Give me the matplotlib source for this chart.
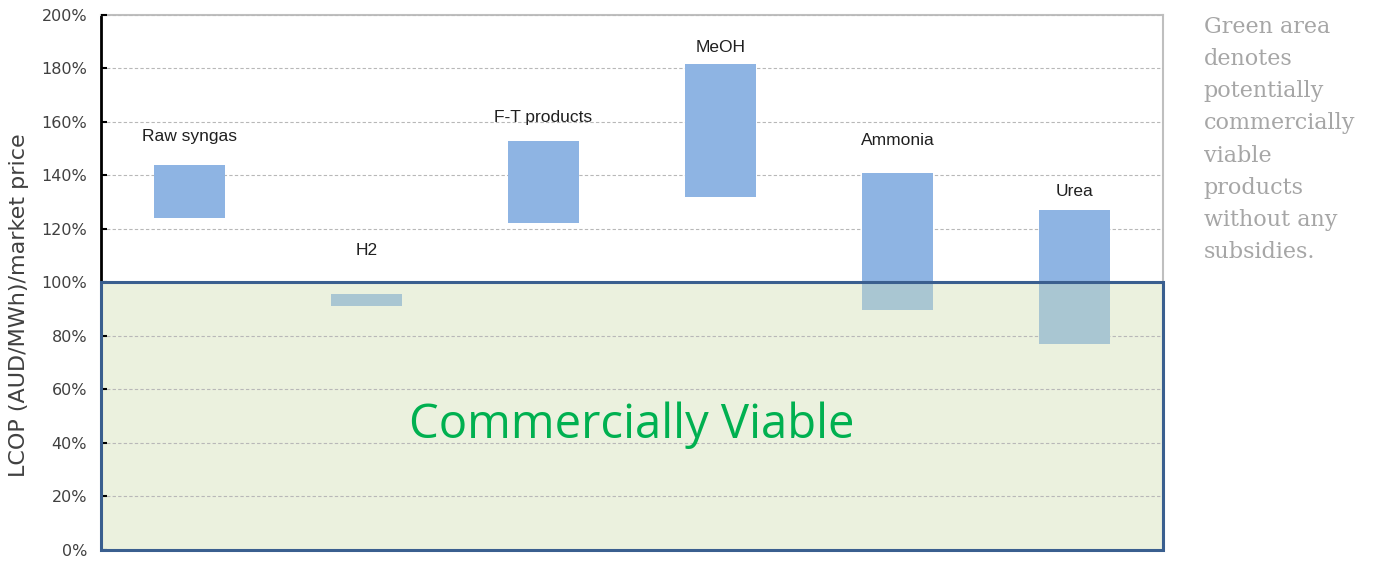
import matplotlib.pyplot as plt
import numpy as np
from matplotlib.patches import Rectangle

# LCOP range per product as % of market price
products = ["Raw syngas", "H2", "F-T products", "MeOH", "Ammonia", "Urea"]
low = [124, 91, 122, 132, 89.5, 77]
high = [144, 95.5, 153, 181.5, 141, 127]
label_y = [154.5, 112, 161.5, 188, 153, 134]

viable = 100  # market price parity
yticks = np.arange(0, 201, 20)

fig = plt.figure(figsize=(13.74, 5.62), dpi=100)
ax = fig.add_axes([0.0735, 0.0222, 0.7729, 0.9511])

x = np.arange(len(products))
ax.set_xlim(-0.5, len(products) - 0.5)
ax.set_ylim(0, 200)

# green "commercially viable" zone
ax.add_patch(Rectangle((-0.5, 0), len(products), viable, facecolor='#EBF1DE',
                       edgecolor='none', zorder=1))

ax.set_yticks(yticks)
ax.set_yticklabels(["{}%".format(v) for v in yticks], fontsize=11.5, color='#404040')
ax.set_xticks([])
ax.yaxis.grid(True, linestyle=(0, (3, 2)), color='#B8B8B8', linewidth=0.8, zorder=2)
ax.set_axisbelow(False)

# bars: part above parity in blue, part inside the green zone muted
for i in range(len(products)):
    top_part = max(low[i], viable)
    if high[i] > top_part:
        ax.bar(x[i], high[i] - top_part, bottom=top_part, width=0.4,
               color='#8EB4E3', zorder=3)
    if low[i] < viable:
        ax.bar(x[i], min(high[i], viable) - low[i], bottom=low[i], width=0.4,
               color='#A9C6D2', zorder=3)
    ax.text(x[i], label_y[i], products[i], ha='center', va='center',
            fontsize=12.5, family='Liberation Sans', color='#202020', zorder=4)

# zone outline on top of bars and spines
ax.add_patch(Rectangle((-0.5, 0), len(products), viable, facecolor='none',
                       edgecolor='#3A5F8F', linewidth=2.2, zorder=6, clip_on=False))

ax.text(2.5, 46.5, "Commercially Viable", ha='center', va='center',
        fontsize=34, family='Open Sans', color='#00B050', zorder=4)

ax.set_ylabel("LCOP (AUD/MWh)/market price", fontsize=16, color='#404040')
ax.yaxis.set_label_coords(-0.068, 0.457)

for s in ['top', 'right']:
    ax.spines[s].set_color('#BFBFBF')
    ax.spines[s].set_linewidth(1.5)
ax.spines['left'].set_linewidth(2)
ax.spines['bottom'].set_visible(False)
ax.tick_params(axis='y', direction='in', length=4, width=1.5, pad=10)

fig.text(0.876, 0.972, "Green area\ndenotes\npotentially\ncommercially\nviable\nproducts\nwithout any\nsubsidies.",
         ha='left', va='top', fontsize=16, family='DejaVu Serif',
         color='#A6A6A6', linespacing=1.6)

fig.savefig("out.png", dpi=100)
